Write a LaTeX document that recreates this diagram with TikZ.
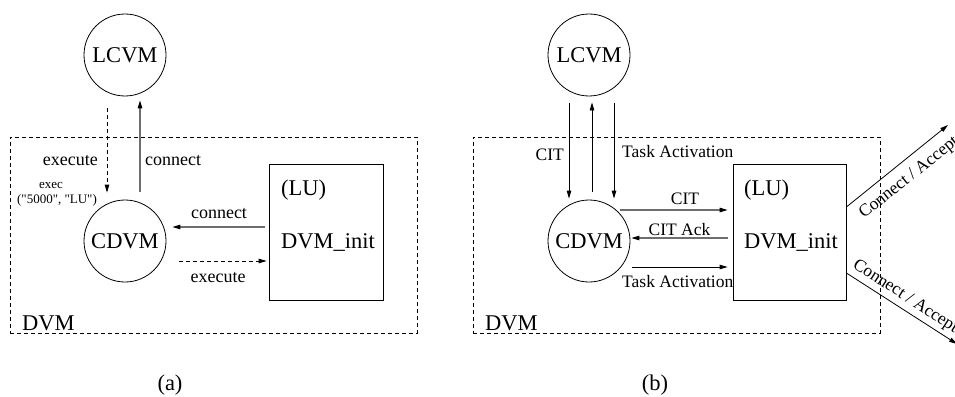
\documentclass[tikz,border=0pt]{standalone}
\usepackage{fontspec}
\setmainfont{Liberation Serif}
\newfontfamily\rawserif{Liberation Serif}
\usetikzlibrary{arrows.meta}
\definecolor{linegray}{RGB}{110,110,110}
\tikzset{
  vm/.style={circle, draw, line width=0.8pt, minimum size=82pt, inner sep=0pt, font=\fontsize{22.5}{27}\selectfont},
  lubox/.style={draw, line width=0.8pt, rectangle, minimum width=114pt, minimum height=136pt, inner sep=0pt},
  dvmbox/.style={draw, line width=0.8pt, dash pattern=on 4pt off 3pt, rectangle, minimum width=407pt, minimum height=196pt, inner sep=0pt},
  big/.style={font=\fontsize{22.5}{27}\selectfont, inner sep=0pt},
  lbla/.style={font=\fontsize{18}{21}\selectfont, inner sep=0pt},
  lblb/.style={font=\fontsize{17.5}{21}\selectfont, inner sep=0pt},
  tinylbl/.style={font=\rawserif\fontsize{13}{15}\selectfont, inner sep=0pt},
  arr/.style={-{Triangle[length=8pt,width=4.5pt,color=black]}, line width=0.8pt},
  garr/.style={arr, draw=linegray, line width=1.1pt},
  darr/.style={arr, dash pattern=on 4pt off 3pt},
}
\begin{document}
\begin{tikzpicture}[x=1pt, y=-1pt]
\useasboundingbox (0,0) rectangle (955,396);

% ---------------- panel (a) ----------------
\node[dvmbox] (dvmA) at (213.5,235) {};
\node[lubox] (luA) at (326,232) {};
\node[vm] (lcvmA) at (125,55) {LCVM};
\node[vm] (cdvmA) at (125,241) {CDVM};
\node[big, anchor=base west] (luAt) at (281,195) {(LU)};
\node[big, anchor=base west] (initA) at (281,248) {DVM\_init};
\node[big, anchor=base west] (dvmAt) at (22,330) {DVM};
\node[big, anchor=base] (capA) at (170,390) {(a)};

\draw[darr, shorten <=12pt, shorten >=7pt] ([xshift=-18pt]lcvmA.south) -- ([xshift=-18pt]cdvmA.north);
\draw[garr, shorten <=8pt, shorten >=4pt] ([xshift=15pt]cdvmA.north) -- ([xshift=15pt]lcvmA.south);
\draw[garr, shorten <=4pt, shorten >=6pt] ([yshift=5pt]luA.west) -- ([yshift=14pt]cdvmA.east);
\draw[darr, shorten <=13pt, shorten >=2pt] ([yshift=-20pt]cdvmA.east) -- ([yshift=-29pt]luA.west);

\node[lbla, anchor=base east] (exA1) at (98,165) {execute};
\node[lbla, anchor=base west] (coA1) at (145,165) {connect};
\node[tinylbl, anchor=base] (execA) at (51,188) {exec};
\node[tinylbl, anchor=base] (argA) at (57,203) {("5000", "LU")};
\node[lbla, anchor=base] (coA2) at (219,218) {connect};
\node[lbla, anchor=base] (exA2) at (218,282) {execute};

% ---------------- panel (b) ----------------
\node[dvmbox] (dvmB) at (676.5,235) {};
\node[lubox, minimum width=113pt] (luB) at (789.5,232) {};
\node[vm] (lcvmB) at (589,55) {LCVM};
\node[vm] (cdvmB) at (589,241) {CDVM};
\node[big, anchor=base west] (luBt) at (744,195) {(LU)};
\node[big, anchor=base west] (initB) at (744,248) {DVM\_init};
\node[big, anchor=base west] (dvmBt) at (485,330) {DVM};
\node[big, anchor=base] (capB) at (655,390) {(b)};

\draw[arr, shorten <=7pt, shorten >=1pt] ([xshift=-20pt]lcvmB.south) -- ([xshift=-20pt]cdvmB.north);
\draw[arr, shorten <=8pt, shorten >=6pt] ([xshift=3pt]cdvmB.north) -- ([xshift=3pt]lcvmB.south);
\draw[arr, shorten <=7pt, shorten >=1pt] ([xshift=25pt]lcvmB.south) -- ([xshift=25pt]cdvmB.north);

\draw[garr, shorten >=5pt] ([xshift=-10pt, yshift=31pt]cdvmB.east) -- ([yshift=22pt]luB.west);
\draw[garr, shorten <=5pt, shorten >=1pt] ([yshift=-6pt]luB.west) -- ([yshift=3pt]cdvmB.east);
\draw[arr, shorten <=2pt, shorten >=5pt] ([yshift=-26pt]cdvmB.east) -- ([yshift=-35pt]luB.west);

\node[lblb, anchor=base east] (citB1) at (564,160) {CIT};
\node[lblb, anchor=base west] (taB1) at (622,157) {Task Activation};
\node[lblb, anchor=base] (citB2) at (685,204) {CIT};
\node[lblb, anchor=base] (ackB) at (679.5,235.5) {CIT Ack};
\node[lblb, anchor=base west] (taB2) at (622,287) {Task Activation};

\coordinate (upEnd) at (948,125);
\coordinate (downEnd) at (957,344);
\draw[arr] ([yshift=25pt]luB.east) -- (upEnd);
\draw[arr] ([yshift=-41pt]luB.east) -- (downEnd);
\node[lblb, anchor=base west, rotate=38.5] (caUp) at (864,219) {Connect / Accept};
\node[lblb, anchor=base west, rotate=-33] (caDown) at (852,267) {Connect / Accept};
\end{tikzpicture}
\end{document}
